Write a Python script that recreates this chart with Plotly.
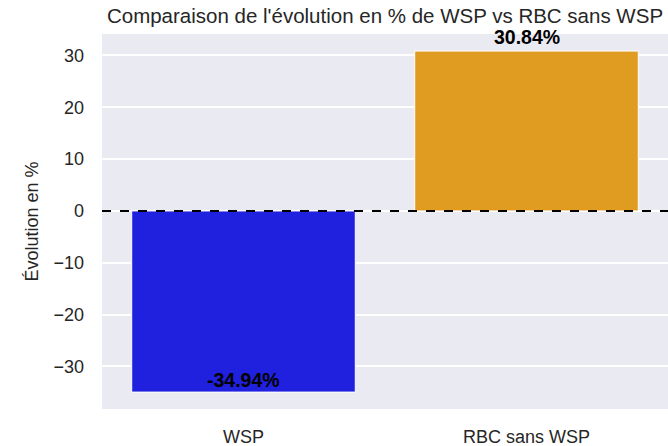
import plotly.graph_objects as go

categories = ["WSP", "RBC sans WSP"]
values = [-34.94, 30.84]
labels = ["-34.94%", "30.84%"]
colors = ["#2020df", "#df9c20"]
label_shift = [-1, 1]

fig = go.Figure()
fig.add_trace(go.Bar(
    x=categories, y=values, width=0.79,
    marker=dict(color=colors, line=dict(color="white", width=1)),
    showlegend=False,
))

for c, v, t, s in zip(categories, values, labels, label_shift):
    fig.add_annotation(x=c, y=v, text="<b>" + t + "</b>", showarrow=False,
                       yanchor="bottom", xanchor="center", yshift=s,
                       font=dict(size=19.5, color="black", family="Liberation Sans, Arial"))

fig.add_shape(type="line", xref="paper", x0=0, x1=1, yref="y", y0=0, y1=0,
              line=dict(color="black", width=2, dash="dash"))

fig.update_layout(
    width=668, height=446,
    margin=dict(l=102, r=0, t=34, b=37),
    paper_bgcolor="white", plot_bgcolor="#EAEAF2",
    font=dict(family="Liberation Sans, Arial", color="#262626", size=18),
    title=dict(text="Comparaison de l'évolution en % de WSP vs RBC sans WSP",
               x=0.5, xref="paper", xanchor="center",
               y=1 - 15.5 / 446, yref="container", yanchor="middle",
               font=dict(size=20.5, color="#262626")),
)
fig.update_xaxes(showgrid=False, zeroline=False, showline=False, automargin=False,
                 range=[-0.5, 1.5], ticklabelstandoff=15,
                 tickfont=dict(size=18))
fig.update_yaxes(range=[-38.2, 34.13], tickvals=[-30, -20, -10, 0, 10, 20, 30],
                 showgrid=True, gridcolor="white", gridwidth=1.5, automargin=False,
                 zeroline=False, showline=False, ticklabelstandoff=17,
                 tickfont=dict(size=18),
                 title=dict(text="Évolution en %", font=dict(size=18), standoff=10))

fig.write_html("out.html", config={"displayModeBar": False},
               post_script="document.body.style.margin='0';document.body.style.overflow='hidden';")
